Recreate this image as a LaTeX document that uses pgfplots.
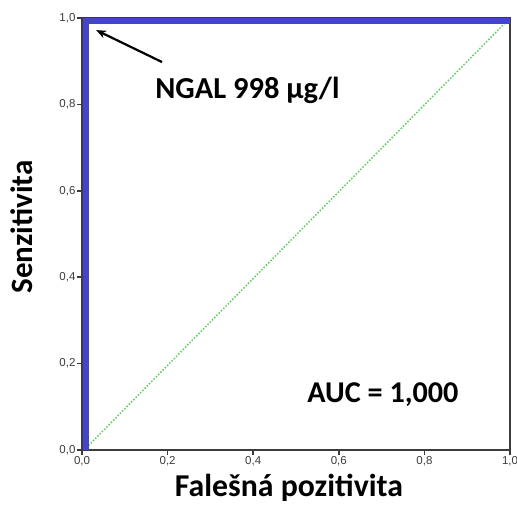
\documentclass[border=0pt]{standalone}
\usepackage{pgfplots}
\pgfplotsset{compat=1.18}
\usetikzlibrary{arrows.meta}
\usepackage{fontspec}
\setmainfont{Carlito}
\newfontfamily\tickfont{Liberation Sans}
\definecolor{rocblue}{RGB}{68,68,204}
\definecolor{refgreen}{RGB}{100,205,100}
\definecolor{axgray}{RGB}{60,60,60}
\begin{document}
\begin{tikzpicture}
\path[use as bounding box] (-82pt,-54pt) rectangle (435pt,450pt);
\begin{axis}[
  at={(0pt,0pt)}, anchor=south west,
  scale only axis,
  width=428pt, height=432pt,
  xmin=0, xmax=1, ymin=0, ymax=1,
  axis line style={draw=axgray, line width=1.6pt},
  xtick={0,0.2,...,1.0}, ytick={0,0.2,...,1.0},
  xtick pos=bottom, ytick pos=left,
  tick align=outside,
  major tick length=5pt,
  major tick style={draw=axgray, line width=1.6pt},
  tick label style={font=\tickfont\fontsize{11.5}{12}\selectfont, text=axgray},
  xticklabel style={yshift=2pt},
  yticklabel style={xshift=2pt},
  /pgf/number format/.cd, use comma, fixed, fixed zerofill, precision=1, assume math mode=true,
  /pgfplots/.cd,
  clip=false,
]
\addplot[refgreen, dash pattern=on 1.6pt off 1.6pt, line width=1.5pt] coordinates {(0.015,0.01) (1,1)};
\addplot[rocblue, line width=6pt] coordinates {(0.009,0) (0.009,0.993) (1,0.993)};
\draw[-{Stealth[length=10pt,width=8pt]}, line width=2.2pt, black] (axis cs:0.187,0.898) -- (axis cs:0.033,0.972);
\node[anchor=base west, inner sep=0pt, font=\bfseries\fontsize{30.5}{31}\selectfont] at (axis cs:0.171,0.8125) {NGAL 998 µg/l};
\node[anchor=base west, inner sep=0pt, font=\bfseries\fontsize{30.2}{31}\selectfont] at (axis cs:0.526,0.111) {AUC = 1,000};
\node[anchor=base, inner sep=0pt, font=\bfseries\fontsize{31.8}{32}\selectfont] at (axis cs:0.4836,-0.107) {Falešná pozitivita};
\node[anchor=base, rotate=90, inner sep=0pt, font=\bfseries\fontsize{31}{32}\selectfont] at (axis cs:-0.1145,0.516) {Senzitivita};
\end{axis}
\end{tikzpicture}
\end{document}
